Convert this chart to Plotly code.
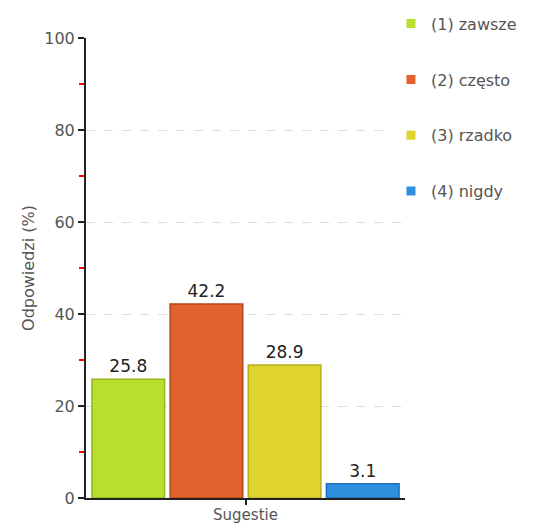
import plotly.graph_objects as go

# データ
CATEGORY = ["Sugestie"]
NAMES = ["(1) zawsze", "(2) często", "(3) rzadko", "(4) nigdy"]
VALUES = [25.8, 42.2, 28.9, 3.1]
FILL_COLORS = ["#b9df2e", "#e0632e", "#dfd42e", "#2f90e0"]
LINE_COLORS = ["#94b81c", "#b8461c", "#b8ad1a", "#1c6fb8"]

FONT = "DejaVu Sans"

fig = go.Figure()

for i, (name, val) in enumerate(zip(NAMES, VALUES)):
    fig.add_trace(go.Bar(
        x=CATEGORY,
        y=[val],
        name=name,
        showlegend=False,
        marker=dict(color=FILL_COLORS[i], line=dict(color=LINE_COLORS[i], width=1.5)),
        text=[f"{val:.1f}"],
        textposition="outside",
        textfont=dict(family=FONT, size=17, color="#222222"),
        cliponaxis=False,
    ))

# 凡例用（小さな四角マーカー）
for i, name in enumerate(NAMES):
    fig.add_trace(go.Scatter(
        x=[None], y=[None],
        mode="markers",
        name=name,
        legendgroup=f"g{i}",
        marker=dict(symbol="square", size=9, color=FILL_COLORS[i]),
        hoverinfo="skip",
    ))

# ページ本体の余白(8px)を考慮したマージン
fig.update_layout(
    width=544,
    height=527,
    paper_bgcolor="white",
    plot_bgcolor="white",
    margin=dict(l=78, r=147, t=30, b=37, autoexpand=False),
    barmode="group",
    bargap=0.02,
    bargroupgap=0.07,
    font=dict(family=FONT, size=16, color="#555555"),
    showlegend=True,
    legend=dict(
        x=0.956,
        y=1.068,
        xanchor="left",
        yanchor="top",
        tracegroupgap=32,
        font=dict(family=FONT, size=16, color="#555555"),
        itemclick=False,
    ),
    xaxis=dict(
        showline=True,
        linecolor="#222222",
        linewidth=2,
        ticks="outside",
        ticklen=5,
        tickcolor="#222222",
        tickwidth=2,
        ticklabelstandoff=-3,
        showgrid=False,
        tickfont=dict(family=FONT, size=15, color="#555555"),
    ),
    yaxis=dict(
        range=[0, 100],
        dtick=20,
        showline=True,
        linecolor="#222222",
        linewidth=2,
        ticks="outside",
        ticklen=6,
        tickcolor="#222222",
        tickwidth=2,
        showgrid=True,
        gridcolor="#dddddd",
        griddash="dash",
        zeroline=False,
        tickfont=dict(family=FONT, size=16, color="#555555"),
        title=dict(text="Odpowiedzi (%)", font=dict(family=FONT, size=16, color="#555555"), standoff=6),
        minor=dict(dtick=10, ticks="outside", ticklen=5, tickcolor="red", tickwidth=2, showgrid=False),
    ),
)

fig.write_html("out.html")
